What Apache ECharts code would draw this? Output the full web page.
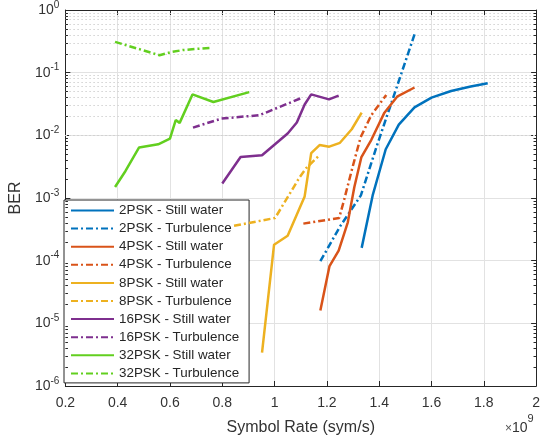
<!DOCTYPE html>
<html>
<head>
<meta charset="utf-8">
<script src="https://cdn.jsdelivr.net/npm/echarts@6/dist/echarts.min.js"></script>
<style>
html,body{margin:0;padding:0;background:#fff;}
#chart{width:543px;height:441px;}
</style>
</head>
<body>
<div id="chart"></div>
<script>
// ---- data (x in units of 1e9 sym/s, y = BER) ----
const seriesNames = [
  '2PSK - Still water', '2PSK - Turbulence',
  '4PSK - Still water', '4PSK - Turbulence',
  '8PSK - Still water', '8PSK - Turbulence',
  '16PSK - Still water', '16PSK - Turbulence',
  '32PSK - Still water', '32PSK - Turbulence'
];
const psk2Still = [[1.333,1.6e-4],[1.375,1.1e-3],[1.425,6.0e-3],[1.475,0.0148],[1.535,0.028],[1.6,0.040],[1.675,0.051],[1.75,0.060],[1.815,0.068]];
const psk2Turb = [[1.175,9.8e-5],[1.25,3.5e-4],[1.33,1.1e-3],[1.39,6.6e-3],[1.46,0.048],[1.537,0.43]];
const psk4Still = [[1.175,1.6e-5],[1.21,8.2e-5],[1.245,1.45e-4],[1.28,4.1e-4],[1.305,1.5e-3],[1.332,4.5e-3],[1.37,8.5e-3],[1.42,0.023],[1.47,0.042],[1.535,0.058]];
const psk4Turb = [[1.11,3.9e-4],[1.247,4.8e-4],[1.266,9.4e-4],[1.299,3.2e-3],[1.329,9.3e-3],[1.37,0.021],[1.427,0.044]];
const psk8Still = [[0.952,3.4e-6],[0.998,1.8e-4],[1.05,2.5e-4],[1.093,6.5e-4],[1.115,1.06e-3],[1.14,5.2e-3],[1.172,7.0e-3],[1.209,6.6e-3],[1.25,7.6e-3],[1.295,0.0125],[1.333,0.023]];
const psk8Turb = [[0.845,3.6e-4],[1.002,4.8e-4],[1.096,2.15e-3],[1.121,3.0e-3],[1.169,4.7e-3]];
const psk16Still = [[0.8,1.7e-3],[0.87,4.5e-3],[0.952,4.8e-3],[1.05,0.0107],[1.085,0.016],[1.115,0.031],[1.14,0.045],[1.208,0.0375],[1.245,0.043]];
const psk16Turb = [[0.688,0.0133],[0.797,0.0185],[0.943,0.021],[1.1,0.039]];
const psk32Still = [[0.39,1.5e-3],[0.43,2.7e-3],[0.482,6.4e-3],[0.555,7.2e-3],[0.6,8.9e-3],[0.622,0.0175],[0.637,0.0158],[0.686,0.045],[0.766,0.034],[0.903,0.049]];
const psk32Turb = [[0.39,0.31],[0.56,0.19],[0.61,0.215],[0.65,0.23],[0.76,0.25]];
const seriesData = [psk2Still, psk2Turb, psk4Still, psk4Turb, psk8Still, psk8Turb, psk16Still, psk16Turb, psk32Still, psk32Turb];
const seriesColors = ['#0072BD','#0072BD','#D95319','#D95319','#EDB120','#EDB120','#7E2F8E','#7E2F8E','#62CF1F','#62CF1F'];
const xTickValues = [0.2,0.4,0.6,0.8,1,1.2,1.4,1.6,1.8,2];
const yDecadeExps = [0,-1,-2,-3,-4,-5,-6];
const xLabel = 'Symbol Rate (sym/s)';
const yLabel = 'BER';

// ---- minor grid values for the log axis ----
const minorVals = [];
for (let e = -6; e < 0; e++) for (let m = 2; m <= 9; m++) minorVals.push(m * Math.pow(10, e));

const FONT = '"Liberation Sans", Arial, Helvetica, sans-serif';
const AX = '#262626';
const dashDot = [7, 3, 2, 3];

const chart = echarts.init(document.getElementById('chart'), null, {renderer: 'canvas'});

const series = seriesNames.map((name, i) => ({
  name: name,
  type: 'line',
  data: seriesData[i],
  symbol: 'none',
  showSymbol: false,
  z: 5,
  color: seriesColors[i],
  lineStyle: {width: 2.5, color: seriesColors[i], type: i % 2 === 0 ? 'solid' : dashDot, cap: 'butt'},
  itemStyle: {color: seriesColors[i]}
}));

const xMin = xTickValues[0], xMax = xTickValues[xTickValues.length - 1];
const tickLenX = 0.018;
series.push({
  type: 'line', data: [], z: 1, silent: true,
  markLine: {
    silent: true, symbol: ['none','none'], label: {show: false}, animation: false,
    lineStyle: {type: [1.5, 2.5], color: '#d2d2d2', width: 1},
    emphasis: {disabled: true},
    data: minorVals.map(v => ({yAxis: v}))
  }
});
series.push({
  type: 'line', data: [], z: 6, silent: true,
  markLine: {
    silent: true, symbol: ['none','none'], label: {show: false}, animation: false,
    lineStyle: {type: 'solid', color: AX, width: 1},
    emphasis: {disabled: true},
    data: minorVals.map(v => [{coord: [xMin, v]}, {coord: [xMin + tickLenX * 0.55, v]}])
      .concat(minorVals.map(v => [{coord: [xMax - tickLenX * 0.55, v]}, {coord: [xMax, v]}]))
  }
});

const yFmt = v => {
  const e = Math.round(Math.log10(v));
  return '{b|10}{e|' + e + '}';
};
const yRich = {
  b: {fontSize: 14, lineHeight: 20, fontFamily: FONT, color: '#333'},
  e: {fontSize: 10, lineHeight: 10, verticalAlign: 'top', fontFamily: FONT, color: '#333'}
};

const option = {
  animation: false,
  backgroundColor: '#fff',
  grid: {left: 62, top: 10, right: 4, bottom: 55, containLabel: false},
  xAxis: [{
    type: 'value', min: xMin, max: xMax, interval: 0.2,
    axisLine: {show: true, onZero: false, lineStyle: {color: AX, width: 1}},
    axisTick: {show: true, inside: true, length: 5, lineStyle: {color: AX}},
    axisLabel: {formatter: v => String(+v.toFixed(1)), fontSize: 14, color: '#333', margin: 10, fontFamily: FONT, hideOverlap: false, showMaxLabel: true, showMinLabel: true},
    splitLine: {show: true, lineStyle: {color: '#e2e2e2', width: 1}},
    name: xLabel, nameLocation: 'middle', nameGap: 34,
    nameTextStyle: {fontSize: 16, color: '#333', fontFamily: FONT}
  }, {
    type: 'value', position: 'top', min: xMin, max: xMax, interval: 0.2,
    axisLine: {show: true, onZero: false, lineStyle: {color: AX, width: 1}},
    axisTick: {show: true, inside: true, length: 5, lineStyle: {color: AX}},
    axisLabel: {show: false}, splitLine: {show: false}
  }],
  yAxis: [{
    type: 'log', logBase: 10, min: 1e-6, max: 1, splitNumber: 6,
    axisLine: {show: true, onZero: false, lineStyle: {color: AX, width: 1}},
    axisTick: {show: true, inside: true, length: 5, lineStyle: {color: AX}},
    axisLabel: {formatter: yFmt, rich: yRich, margin: 6, showMaxLabel: true, showMinLabel: true},
    splitLine: {show: true, lineStyle: {color: '#e2e2e2', width: 1}},
    name: yLabel, nameLocation: 'middle', nameGap: 40, nameRotate: 90,
    nameTextStyle: {fontSize: 16, color: '#333', fontFamily: FONT}
  }, {
    type: 'log', logBase: 10, min: 1e-6, max: 1, splitNumber: 6, position: 'right',
    axisLine: {show: true, onZero: false, lineStyle: {color: AX, width: 1}},
    axisTick: {show: true, inside: true, length: 5, lineStyle: {color: AX}},
    axisLabel: {show: false}, splitLine: {show: false}
  }],
  legend: {
    data: seriesNames,
    orient: 'vertical',
    left: 64, top: 200,
    padding: [4, 10, 3, 6],
    itemWidth: 43, itemHeight: 13, itemGap: 5.1,
    backgroundColor: '#fff',
    borderColor: AX, borderWidth: 1,
    textStyle: {fontSize: 13.4, color: '#262626', fontFamily: FONT},
    itemStyle: {color: 'rgba(0,0,0,0)', borderColor: 'rgba(0,0,0,0)', borderWidth: 0, opacity: 0},
    selectedMode: false,
    z: 4
  },
  graphic: [{
    type: 'text', left: 505, top: 413, z: 10,
    style: {
      text: '{a|×}{b|10}{c|9}',
      rich: {
        a: {fontSize: 12, fontFamily: FONT, fill: '#555', lineHeight: 22, verticalAlign: 'bottom'},
        b: {fontSize: 14, fontFamily: FONT, fill: '#333', lineHeight: 22, verticalAlign: 'bottom'},
        c: {fontSize: 11, fontFamily: FONT, fill: '#333', lineHeight: 11, verticalAlign: 'top'}
      }
    }
  }],
  series: series
};
chart.setOption(option);
</script>
</body>
</html>
